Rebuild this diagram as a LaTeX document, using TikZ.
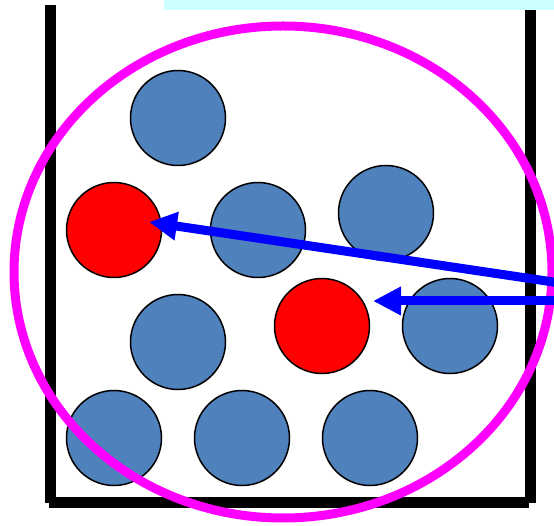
\documentclass[tikz,border=0pt]{standalone}
\usetikzlibrary{arrows.meta}
\definecolor{ballblue}{HTML}{4F81BD}
\definecolor{barcyan}{HTML}{CCFFFF}
\definecolor{ringmag}{HTML}{FF00FF}
\definecolor{arrblue}{HTML}{0000FF}
\tikzset{
  ball/.style={circle, draw=black, line width=1.5pt, minimum size=95pt, inner sep=0pt},
  blueball/.style={ball, fill=ballblue},
  redball/.style={ball, fill=red},
  wall/.style={fill=black, draw=none},
  pointer/.style={draw=arrblue, line width=9pt, -{Triangle[length=28pt, width=27pt]}},
}
\begin{document}
\begin{tikzpicture}[x=1pt, y=-1pt]
\useasboundingbox (0,0) rectangle (554,526);
\clip (0,0) rectangle (554,526);
% cyan bar
\fill[barcyan] (164,0) rectangle (554,10);
% beaker
\fill[wall] (45,5) rectangle (56,503);
\fill[wall] (525,10) rectangle (536,503);
\fill[wall] (49,497) rectangle (529,508);
% balls
\node[blueball] (b1) at (178,118) {};
\node[redball]  (r1) at (114,230) {};
\node[blueball] (b2) at (258,230) {};
\node[blueball] (b3) at (386,213) {};
\node[blueball] (b4) at (178,342) {};
\node[redball]  (r2) at (322,326) {};
\node[blueball] (b5) at (450,326) {};
\node[blueball] (b6) at (114,438) {};
\node[blueball] (b7) at (242,438) {};
\node[blueball] (b8) at (370,438) {};
% ring
\draw[ringmag, line width=9pt] (283,272) ellipse [x radius=269, y radius=246];
% arrows
\coordinate (s1) at (560,283);
\coordinate (t1) at (149,222);
\coordinate (s2) at (560,301);
\coordinate (t2) at (373,301);
\draw[pointer] (s1) -- (t1);
\draw[pointer] (s2) -- (t2);
\end{tikzpicture}
\end{document}
